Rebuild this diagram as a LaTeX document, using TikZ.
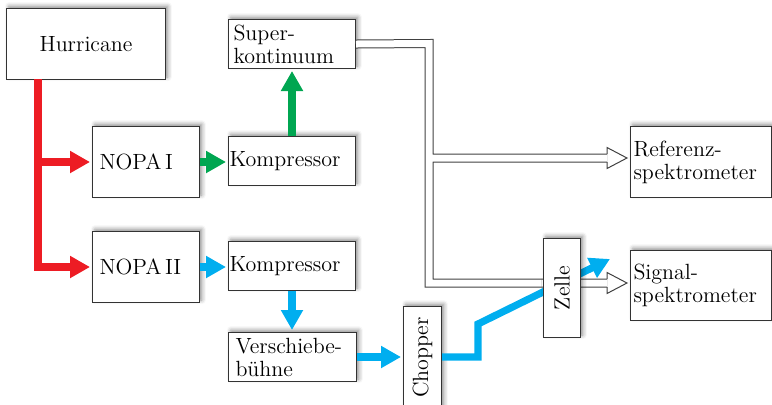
\documentclass[tikz,border=0pt]{standalone}
\usepackage{fontspec}
\usepackage{graphicx}
\usetikzlibrary{arrows.meta,shadows.blur}
\definecolor{cred}{RGB}{237,28,36}
\definecolor{cgreen}{RGB}{0,166,81}
\definecolor{cblue}{RGB}{0,174,239}
\begin{document}
\begin{tikzpicture}[x=0.5pt,y=-0.5pt,
  box/.style={draw=black!80, fill=white, line width=0.5pt,
    font=\fontsize{11pt}{11.5pt}\selectfont, inner ysep=0pt, anchor=north west,
    blur shadow={shadow xshift=1.2pt, shadow yshift=1.2pt, shadow blur radius=2pt, shadow opacity=45}},
  beam/.style={line width=3.6pt, line join=miter, -{Triangle[length=10pt,width=10.5pt]}, shorten >=1pt},
  dbl/.style={line width=3.5pt, white, line join=miter, preaction={draw, line width=4.5pt, black!75}},
  openhead/.style={line width=0.5pt, black!75, line join=miter},
]
\useasboundingbox (0,0) rectangle (772,404);

\node[box, align=center, minimum width=79.5pt, minimum height=35.5pt, inner xsep=0pt] (hur) at (6,8) {Hurricane};
\node[box, text width=58.5pt, inner xsep=2.5pt, minimum height=24.5pt, align=left] (sup) at (228,19) {Super-\\kontinuum};
\node[box, text width=46.5pt, inner xsep=3.5pt, minimum height=35.5pt, align=left] (n1) at (92,126) {NOPA\,I};
\node[box, text width=62.5pt, inner xsep=0.5pt, minimum height=24.5pt, align=left] (k1) at (228,136) {Kompressor};
\node[box, text width=46.5pt, inner xsep=3.5pt, minimum height=35.5pt, align=left] (n2) at (92,231) {NOPA\,II};
\node[box, text width=62.5pt, inner xsep=0.5pt, minimum height=24.5pt, align=left] (k2) at (228,241) {Kompressor};
\node[box, text width=57pt, inner xsep=3.5pt, minimum height=24.5pt, align=left] (vs) at (228,332) {Verschiebe-\\bühne};
\node[box, minimum width=19pt, minimum height=51pt, inner sep=0pt] (chop) at (403,306) {\rotatebox{90}{Chopper}};
\node[box, text width=67.5pt, inner xsep=1.5pt, minimum height=35.5pt, align=left] (ref) at (630,126) {Referenz-\\spektrometer};
\node[box, text width=67.5pt, inner xsep=1.5pt, minimum height=35pt, align=left] (sig) at (630,250) {Signal-\\spektrometer};

% red
\coordinate (rtop) at (38,79);
\draw[beam, cred] (rtop) |- (n2.west);
\draw[beam, cred] (rtop |- n1.west) -- (n1.west);
% green
\draw[beam, cgreen] (n1.east) -- (n1.east -| k1.west);
\draw[beam, cgreen] (k1.north) -- (sup.south);
% blue
\draw[beam, cblue] (n2.east) -- (n2.east -| k2.west);
\draw[beam, cblue] (k2.south) -- (k2.south |- vs.north);
\draw[beam, cblue] (vs.east) -- (vs.east -| chop.west);

% white double beams
\coordinate (dj) at (429,43.5);
\coordinate (refb) at (607,158);
\coordinate (sigb) at (607,283);
\draw[dbl] (sup.east) -- (dj) |- (refb) (dj) |- (sigb);
\draw[openhead] (refb) ++(0,-4) -- ++(0,-6.5) -- ++(20,10.5) -- ++(-20,10.5) -- ++(0,-6.5);
\draw[openhead] (sigb) ++(0,-4) -- ++(0,-6.5) -- ++(20,10.5) -- ++(-20,10.5) -- ++(0,-6.5);

% blue beam through cell
\coordinate (btip) at (610,259);
\draw[beam, cblue, shorten >=0pt] (chop.east |- vs.east) -- ++(36,0) -- ++(0,-33) -- (btip);

\node[box, minimum width=18.5pt, minimum height=49.5pt, inner sep=0pt] (zelle) at (543,238) {\rotatebox{90}{Zelle}};
\end{tikzpicture}
\end{document}
